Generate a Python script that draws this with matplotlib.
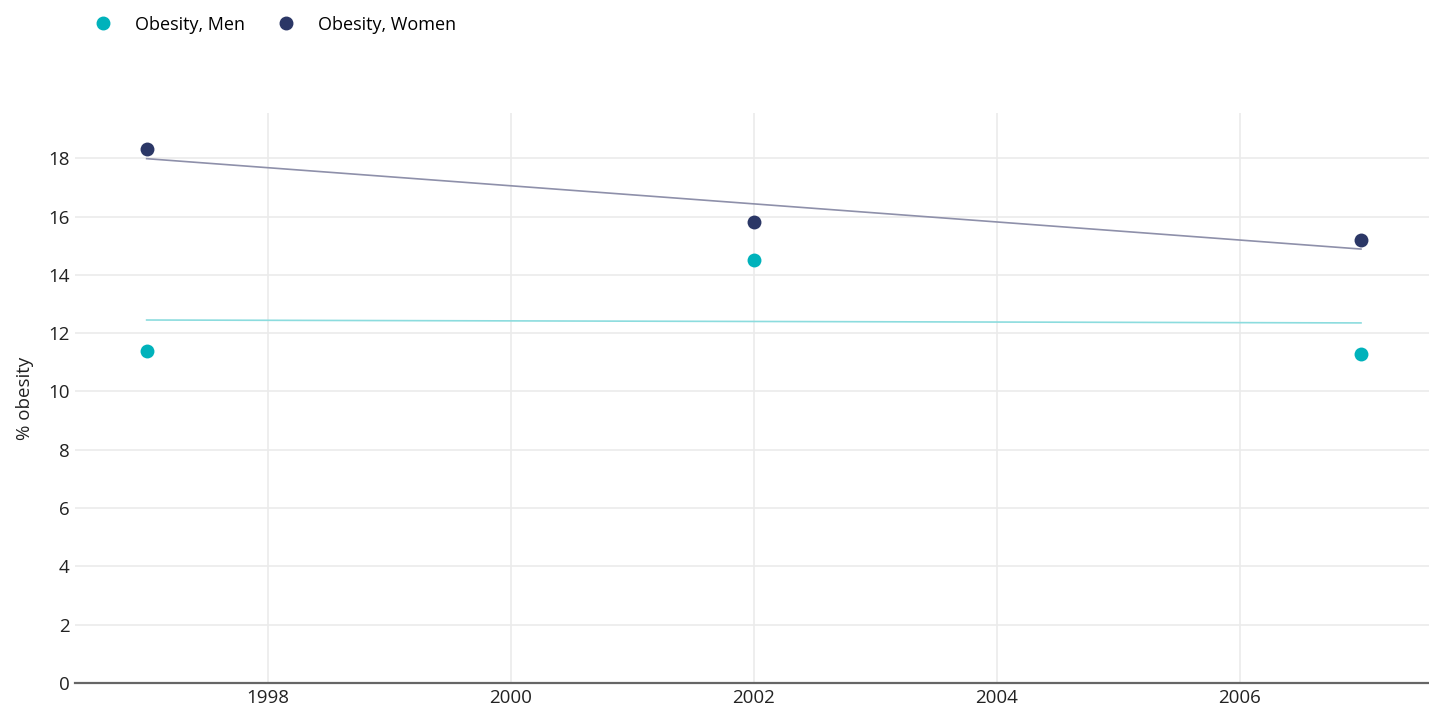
import numpy as np
import matplotlib.pyplot as plt
from matplotlib.lines import Line2D

plt.rcParams['font.family'] = ['Open Sans', 'DejaVu Sans']

years = [1997, 2002, 2007]
men = [11.4, 14.5, 11.3]
women = [18.3, 15.8, 15.2]

men_col = '#00b2bb'
women_col = '#2b3766'
men_trend = '#8cdcde'
women_trend = '#8e90aa'

fig = plt.figure(figsize=(14.29, 7.08), dpi=100)
ax = fig.add_axes([75 / 1429, 1 - 683 / 708, 1 - 75 / 1429, (683 - 113) / 708])

# linear trend lines (least squares)
x = np.array(years, dtype=float)
for vals, col in [(men, men_trend), (women, women_trend)]:
    p = np.polyfit(x, vals, 1)
    ax.plot(x, np.polyval(p, x), color=col, lw=1.2, zorder=2)

ax.scatter(years, men, s=100, color=men_col, zorder=3, linewidths=0)
ax.scatter(years, women, s=100, color=women_col, zorder=3, linewidths=0)

ax.set_xlim(1996.41, 2007.56)
ax.set_ylim(0, 19.55)
ax.set_xticks([1998, 2000, 2002, 2004, 2006])
ax.set_yticks(range(0, 19, 2))
ax.grid(True, color='#ebebeb', lw=1.2)
ax.set_axisbelow(True)
for s in ['top', 'right', 'left']:
    ax.spines[s].set_visible(False)
ax.spines['bottom'].set_color('#666666')
ax.spines['bottom'].set_linewidth(1.6)
ax.tick_params(length=0, labelsize=13.5, colors='#222222', pad=4)
ax.set_ylabel('% obesity', fontsize=13.5, color='#222222', labelpad=10)

handles = [
    Line2D([], [], marker='o', linestyle='None', color=men_col, markersize=9, label='Obesity, Men'),
    Line2D([], [], marker='o', linestyle='None', color=women_col, markersize=9, label='Obesity, Women'),
]
fig.legend(handles=handles, loc='upper left', bbox_to_anchor=(0.0505, 1.001), ncol=2,
           frameon=False, fontsize=13, handletextpad=1.0, handlelength=1.6, columnspacing=1.45)

fig.savefig('out.png', dpi=100)
